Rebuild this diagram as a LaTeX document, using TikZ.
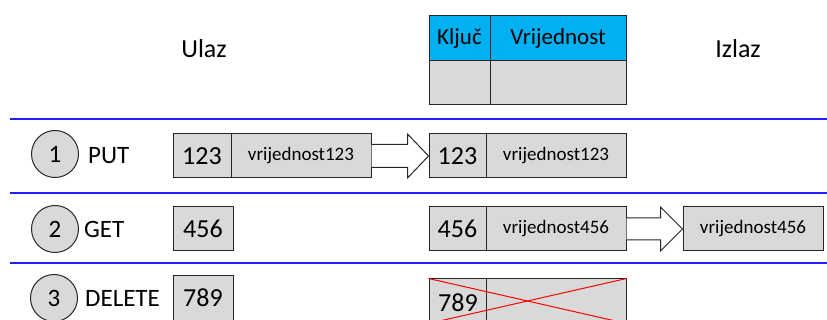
\documentclass[tikz,border=0pt]{standalone}
\usepackage{fontspec}
\setmainfont{Carlito}
\usetikzlibrary{calc}
\definecolor{boxgray}{HTML}{D9D9D9}
\definecolor{headcyan}{HTML}{00B0F0}
\definecolor{sepblue}{HTML}{2020FF}
\newcommand{\fs}[1]{\fontsize{#1}{#1}\selectfont}
\tikzset{
  cell/.style={draw=black!85, line width=1pt, fill=boxgray, inner sep=0pt, minimum height=44pt, anchor=center},
  headcell/.style={cell, fill=headcyan, minimum height=45pt, font=\fs{23}},
  bignum/.style={font=\fs{26}},
  smalltxt/.style={font=\fs{19}},
  opcircle/.style={circle, draw=black!85, line width=1pt, fill=boxgray, minimum size=47pt, inner sep=0pt, font=\fs{25}},
  oplabel/.style={inner sep=0pt, anchor=west, font=\fs{25}},
  title/.style={inner sep=0pt, anchor=base, font=\fs{26}},
  fatarrow/.style={draw=black!85, line width=1pt, fill=white},
  sepline/.style={draw=sepblue, line width=1.5pt},
  cross/.style={draw=red, line width=1pt}
}
\begin{document}
\begin{tikzpicture}[x=1pt, y=-1pt]
\useasboundingbox (0,0) rectangle (827,320);

% titles
\node[title] (ulaz) at (204,58) {Ulaz};
\node[title] (izlaz) at (738,58) {Izlaz};

% header table
\node[headcell, minimum width=61pt] (hk) at (459.5,38.5) {Ključ};
\node[headcell, minimum width=136pt] (hv) at (558,38.5) {Vrijednost};
\node[cell, minimum width=61pt] (bk) at (459.5,83) {};
\node[cell, minimum width=136pt] (bv) at (558,83) {};

% separator lines
\draw[sepline] (10,119) -- (827,119);
\draw[sepline] (10,193) -- (827,193);
\draw[sepline] (10,263) -- (827,263);

% row 1
\node[opcircle] (c1) at (55,154) {1};
\node[oplabel] (put) at (88,156) {PUT};
\node[cell, bignum, minimum width=58pt] (k1in) at (202,156) {123};
\node[cell, smalltxt, minimum width=140pt] (v1in) at (301,156) {vrijednost123};
\node[cell, bignum, minimum width=57pt] (k1out) at (457.5,156) {123};
\node[cell, smalltxt, minimum width=140pt] (v1out) at (556,156) {vrijednost123};
\draw[fatarrow] ($(v1in.east)+(0,-11.5)$) -- ($(k1out.west)+(-21,-11.5)$)
  -- ($(k1out.west)+(-21,-22)$) -- (k1out.west) -- ($(k1out.west)+(-21,22)$)
  -- ($(k1out.west)+(-21,11.5)$) -- ($(v1in.east)+(0,11.5)$);

% row 2
\node[opcircle] (c2) at (55,229) {2};
\node[oplabel] (get) at (84,229) {GET};
\node[cell, bignum, minimum width=60pt] (k2in) at (203,229) {456};
\node[cell, bignum, minimum width=57pt] (k2out) at (457.5,229) {456};
\node[cell, smalltxt, minimum width=140pt] (v2out) at (556,229) {vrijednost456};
\node[cell, smalltxt, minimum width=140pt] (res) at (753,229) {vrijednost456};
\draw[fatarrow] ($(v2out.east)+(0,-11)$) -- ($(res.west)+(-22,-11)$)
  -- ($(res.west)+(-22,-22)$) -- (res.west) -- ($(res.west)+(-22,22)$)
  -- ($(res.west)+(-22,11)$) -- ($(v2out.east)+(0,11)$);

% row 3
\node[opcircle] (c3) at (54,298) {3};
\node[oplabel] (del) at (85,298) {DELETE};
\node[cell, bignum, minimum width=60pt] (k3in) at (203,298) {789};
\node[cell, minimum width=57pt] (k3out) at (457.5,301) {};
\node[cell, minimum width=140pt] (v3out) at (556,301) {};
\node[bignum, inner sep=0pt] (k3txt) at (458,303) {789};
\draw[cross] (k3out.north west) -- (v3out.south east);
\draw[cross] (k3out.south west) -- (v3out.north east);
\end{tikzpicture}
\end{document}
